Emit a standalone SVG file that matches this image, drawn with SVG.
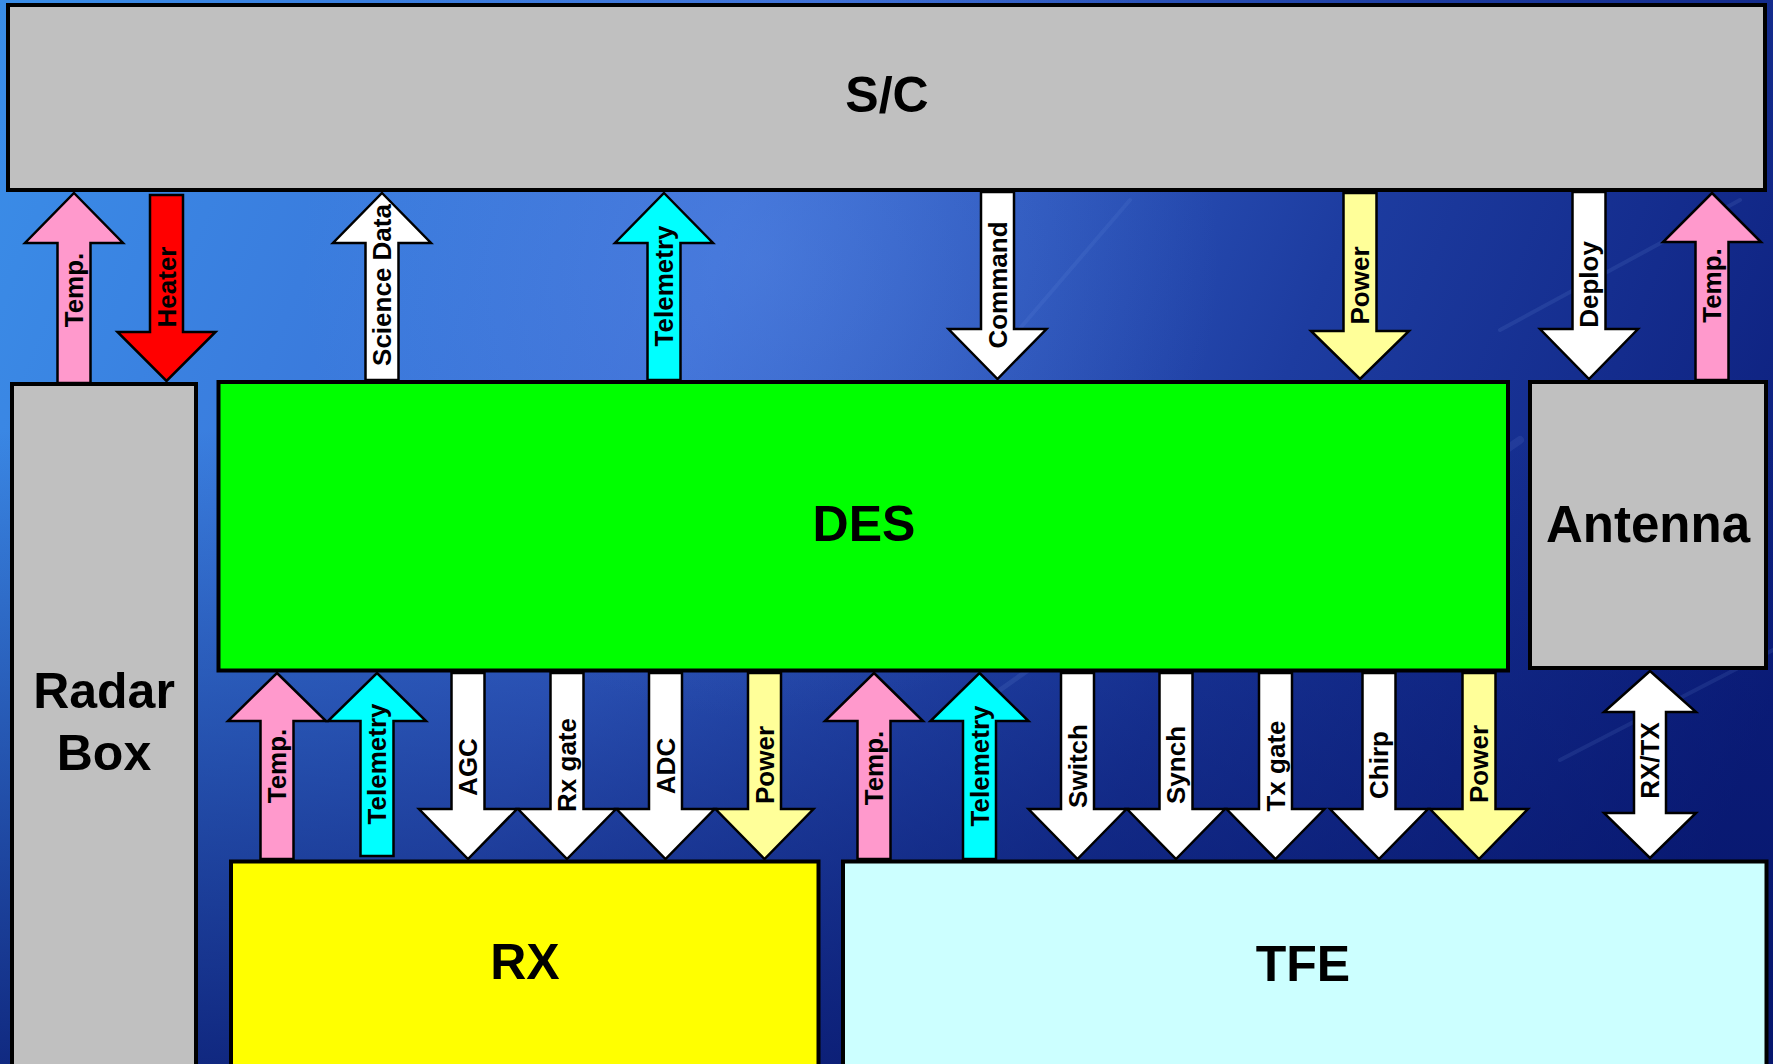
<svg xmlns="http://www.w3.org/2000/svg" width="1773" height="1064" viewBox="0 0 1773 1064">
<defs>
<linearGradient id="bg" gradientUnits="userSpaceOnUse" x1="0" y1="0" x2="1773" y2="700">
<stop offset="0" stop-color="#3a8ee8"/>
<stop offset="0.4" stop-color="#3a6cd4"/>
<stop offset="0.7" stop-color="#1d3ca0"/>
<stop offset="1" stop-color="#0c1e7c"/>
</linearGradient>
<linearGradient id="shade" gradientUnits="userSpaceOnUse" x1="0" y1="430" x2="0" y2="1064">
<stop offset="0" stop-color="#06156a" stop-opacity="0"/>
<stop offset="1" stop-color="#06156a" stop-opacity="0.8"/>
</linearGradient>
<radialGradient id="glow" gradientUnits="userSpaceOnUse" cx="760" cy="260" r="460">
<stop offset="0" stop-color="#6a9cf0" stop-opacity="0.3"/>
<stop offset="1" stop-color="#6a9cf0" stop-opacity="0"/>
</radialGradient>
<style>
.box{stroke:#000;stroke-width:4}
.arr{stroke:#000;stroke-width:2.5;stroke-linejoin:miter}
.big{font-family:"Liberation Sans",Arial,sans-serif;font-weight:bold;font-size:50px;fill:#000;text-anchor:middle}
.lbl{font-family:"Liberation Sans",Arial,sans-serif;font-weight:bold;font-size:26px;fill:#000;text-anchor:middle}
.pink{fill:#ff99cc}.red{fill:#ff0000}.white{fill:#ffffff}.cyan{fill:#00ffff}.pyel{fill:#ffff99}
.streak{stroke:#9fc0ff;stroke-linecap:round;fill:none}
</style>
</defs>
<g id="background">
<rect x="0" y="0" width="1773" height="1064" fill="url(#bg)"/>
<rect x="0" y="0" width="1773" height="1064" fill="url(#shade)"/>
<rect x="0" y="0" width="1773" height="1064" fill="url(#glow)"/>
<line class="streak" x1="1000" y1="690" x2="1380" y2="420" stroke-width="5" opacity="0.1"/>
<line class="streak" x1="1230" y1="640" x2="1520" y2="440" stroke-width="8" opacity="0.09"/>
<line class="streak" x1="1500" y1="330" x2="1740" y2="200" stroke-width="4" opacity="0.1"/>
<line class="streak" x1="1010" y1="340" x2="1130" y2="200" stroke-width="4" opacity="0.08"/>
<line class="streak" x1="1560" y1="760" x2="1773" y2="650" stroke-width="4" opacity="0.1"/>
</g>
<g id="node-sc">
<rect class="box" x="8" y="5" width="1757" height="185" fill="#c0c0c0"/>
<text class="big" x="887" y="112">S/C</text>
</g>
<g id="node-radarbox">
<rect class="box" x="12" y="384" width="184" height="700" fill="#c0c0c0"/>
<text class="big" x="104" y="708">Radar</text>
<text class="big" x="104" y="770">Box</text>
</g>
<g id="node-des">
<rect class="box" x="218.5" y="382" width="1289.5" height="288.5" fill="#00ff00"/>
<text class="big" x="864" y="541">DES</text>
</g>
<g id="node-antenna">
<rect class="box" x="1530" y="382" width="236" height="286" fill="#c0c0c0"/>
<text class="big" x="1648" y="542" style="font-size:51px">Antenna</text>
</g>
<g id="node-rx">
<rect class="box" x="231" y="861.5" width="587.5" height="220" fill="#ffff00"/>
<text class="big" x="525" y="979">RX</text>
</g>
<g id="node-tfe">
<rect class="box" x="843" y="861.5" width="923.5" height="220" fill="#ccffff"/>
<text class="big" x="1303" y="981">TFE</text>
</g>
<g id="connectors">
<path class="arr pink" d="M74,193 L123,243 L90.5,243 L90.5,383 L57.5,383 L57.5,243 L25,243 Z"/>
<text class="lbl" transform="translate(83.3,290) rotate(-90)">Temp.</text>
<path class="arr red" d="M150,195 L183,195 L183,332 L215.5,332 L166.5,381 L117.5,332 L150,332 Z"/>
<text class="lbl" transform="translate(175.8,287) rotate(-90)">Heater</text>
<path class="arr white" d="M382,193 L431,243 L398.5,243 L398.5,380 L365.5,380 L365.5,243 L333,243 Z"/>
<text class="lbl" transform="translate(391.3,285) rotate(-90)">Science Data</text>
<path class="arr cyan" d="M664,193 L713,243 L680.5,243 L680.5,380 L647.5,380 L647.5,243 L615,243 Z"/>
<text class="lbl" transform="translate(673.3,286) rotate(-90)">Telemetry</text>
<path class="arr white" d="M981,192 L1014,192 L1014,329 L1046.5,329 L997.5,379 L948.5,329 L981,329 Z"/>
<text class="lbl" transform="translate(1006.8,285) rotate(-90)">Command</text>
<path class="arr pyel" d="M1343.5,193 L1376.5,193 L1376.5,331 L1409,331 L1360,379 L1311,331 L1343.5,331 Z"/>
<text class="lbl" transform="translate(1369.3,285.5) rotate(-90)">Power</text>
<path class="arr white" d="M1572.5,192 L1605.5,192 L1605.5,329 L1638,329 L1589,379 L1540,329 L1572.5,329 Z"/>
<text class="lbl" transform="translate(1598.3,284.5) rotate(-90)">Deploy</text>
<path class="arr pink" d="M1712,193 L1761,242 L1728.5,242 L1728.5,380 L1695.5,380 L1695.5,242 L1663,242 Z"/>
<text class="lbl" transform="translate(1721.3,285.5) rotate(-90)">Temp.</text>
<path class="arr pink" d="M277,673 L326,721 L293.5,721 L293.5,859 L260.5,859 L260.5,721 L228,721 Z"/>
<text class="lbl" transform="translate(286.3,766) rotate(-90)">Temp.</text>
<path class="arr cyan" d="M377,673 L426,721 L393.5,721 L393.5,856 L360.5,856 L360.5,721 L328,721 Z"/>
<text class="lbl" transform="translate(386.3,764) rotate(-90)">Telemetry</text>
<path class="arr white" d="M451.5,673 L484.5,673 L484.5,809 L517,809 L468,859 L419,809 L451.5,809 Z"/>
<text class="lbl" transform="translate(477.3,767) rotate(-90)">AGC</text>
<path class="arr white" d="M550.5,673 L583.5,673 L583.5,809 L616,809 L567,859 L518,809 L550.5,809 Z"/>
<text class="lbl" transform="translate(576.3,765) rotate(-90)">Rx gate</text>
<path class="arr white" d="M649,673 L682,673 L682,809 L714.5,809 L665.5,859 L616.5,809 L649,809 Z"/>
<text class="lbl" transform="translate(674.8,766) rotate(-90)">ADC</text>
<path class="arr pyel" d="M748,673 L781,673 L781,809 L813.5,809 L764.5,859 L715.5,809 L748,809 Z"/>
<text class="lbl" transform="translate(773.8,765) rotate(-90)">Power</text>
<path class="arr pink" d="M874,673 L923,721 L890.5,721 L890.5,859 L857.5,859 L857.5,721 L825,721 Z"/>
<text class="lbl" transform="translate(883.3,768) rotate(-90)">Temp.</text>
<path class="arr cyan" d="M979.5,673 L1028.5,721 L996,721 L996,859 L963,859 L963,721 L930.5,721 Z"/>
<text class="lbl" transform="translate(988.8,766) rotate(-90)">Telemetry</text>
<path class="arr white" d="M1061,673 L1094,673 L1094,809 L1126.5,809 L1077.5,859 L1028.5,809 L1061,809 Z"/>
<text class="lbl" transform="translate(1086.8,766) rotate(-90)">Switch</text>
<path class="arr white" d="M1159.5,673 L1192.5,673 L1192.5,809 L1225,809 L1176,859 L1127,809 L1159.5,809 Z"/>
<text class="lbl" transform="translate(1185.3,765) rotate(-90)">Synch</text>
<path class="arr white" d="M1259,673 L1292,673 L1292,809 L1324.5,809 L1275.5,859 L1226.5,809 L1259,809 Z"/>
<text class="lbl" transform="translate(1284.8,766) rotate(-90)">Tx gate</text>
<path class="arr white" d="M1362.5,673 L1395.5,673 L1395.5,809 L1428,809 L1379,859 L1330,809 L1362.5,809 Z"/>
<text class="lbl" transform="translate(1388.3,765) rotate(-90)">Chirp</text>
<path class="arr pyel" d="M1462.5,673 L1495.5,673 L1495.5,809 L1528,809 L1479,859 L1430,809 L1462.5,809 Z"/>
<text class="lbl" transform="translate(1488.3,764) rotate(-90)">Power</text>
<path class="arr white" d="M1650,671 L1696,712 L1666,712 L1666,813 L1696,813 L1650,858 L1604,813 L1634,813 L1634,712 L1604,712 Z"/>
<text class="lbl" transform="translate(1659.3,760.5) rotate(-90)">RX/TX</text>
</g>
</svg>
